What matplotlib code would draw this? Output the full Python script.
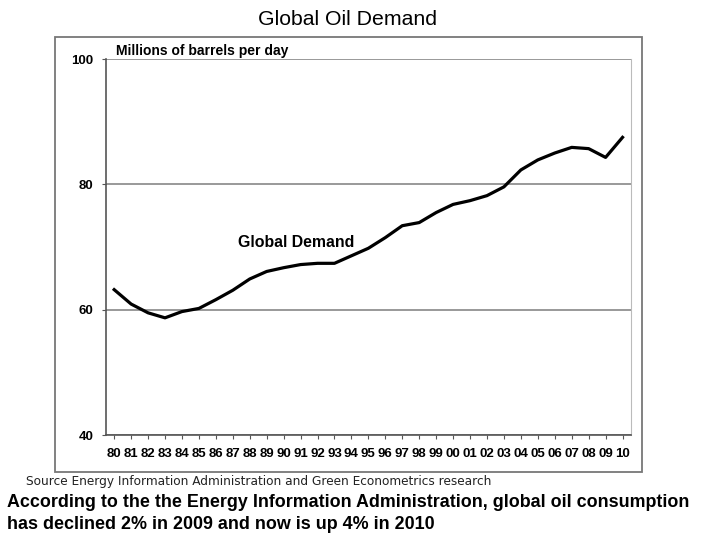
import matplotlib.pyplot as plt
from matplotlib.patches import Rectangle

years = ['80', '81', '82', '83', '84', '85', '86', '87', '88', '89',
         '90', '91', '92', '93', '94', '95', '96', '97', '98', '99',
         '00', '01', '02', '03', '04', '05', '06', '07', '08', '09', '10']
demand = [63.2, 60.9, 59.5, 58.7, 59.7, 60.2, 61.6, 63.1, 64.9, 66.1,
          66.7, 67.2, 67.4, 67.4, 68.6, 69.8, 71.5, 73.4, 73.9, 75.5,
          76.8, 77.4, 78.2, 79.6, 82.3, 83.9, 85.0, 85.9, 85.7, 84.3, 87.5]
y_ticks = [40, 60, 80, 100]

plt.rcParams['font.family'] = ['Liberation Sans', 'DejaVu Sans']
narrow = ['Liberation Sans Narrow', 'Liberation Sans']

fig = plt.figure(figsize=(7.2, 5.4), dpi=100)

# outer frame around the chart
fig.patches.append(Rectangle((0.0764, 0.1259), 0.8153, 0.8056, transform=fig.transFigure,
                             fill=False, edgecolor='#777777', linewidth=1.3))

ax = fig.add_axes([0.1468, 0.1944, 0.7296, 0.6963])
x = range(len(years))
ax.plot(x, demand, color='black', linewidth=2.3)

ax.set_xlim(-0.5, len(years) - 0.5)
ax.set_ylim(40, 100)
ax.set_yticks(y_ticks)
ax.set_xticks(list(x))
ax.set_xticklabels(years)
for lab in ax.get_xticklabels() + ax.get_yticklabels():
    lab.set_fontweight('bold')
    lab.set_fontsize(9.5)
    lab.set_family(narrow)
ax.tick_params(axis='both', length=3, width=0.8, color='#555555', pad=6)
ax.grid(axis='y', color='#888888', linewidth=1.2)
ax.set_axisbelow(True)

ax.spines['top'].set_visible(False)
ax.spines['right'].set_color('#bbbbbb')
ax.spines['left'].set_color('#555555')
ax.spines['bottom'].set_color('#555555')
ax.spines['left'].set_linewidth(1.2)
ax.spines['bottom'].set_linewidth(1.2)

ax.text(0.02, 1.003, 'Millions of barrels per day', transform=ax.transAxes,
        fontsize=10, fontweight='bold', ha='left', va='bottom')
ax.text(10.73, 70.8, 'Global Demand', fontsize=11.4, fontweight='bold',
        ha='center', va='center')

fig.text(0.358, 0.963, 'Global Oil Demand', fontsize=15.3, ha='left', va='center')
fig.text(0.036, 0.109, 'Source Energy Information Administration and Green Econometrics research',
         fontsize=9.7, ha='left', va='center', color='#222222',
         family=['DejaVu Sans'], fontstretch='condensed')
fig.text(0.010, 0.049, 'According to the the Energy Information Administration, global oil consumption\n'
         'has declined 2% in 2009 and now is up 4% in 2010',
         fontsize=12.9, fontweight='bold', ha='left', va='center', linespacing=1.45)

fig.savefig('out.png', dpi=100, facecolor='white')
